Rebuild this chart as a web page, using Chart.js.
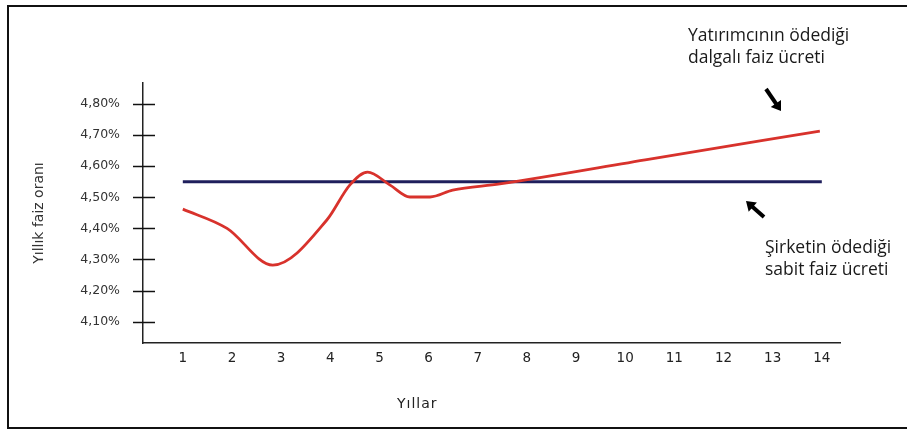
<!DOCTYPE html>
<html>
<head>
<meta charset="utf-8">
<script src="https://cdn.jsdelivr.net/npm/chart.js@4/dist/chart.umd.min.js"></script>
<style>
  body { margin: 0; background: #fff; }
  #wrap { position: relative; width: 907px; height: 433px; overflow: hidden; }
  #frame { position: absolute; left: 7px; top: 5px; width: 920px; height: 424px; border: 2px solid #111; border-right: none; box-sizing: border-box; }
  .note { position: absolute; font-family: "Open Sans", sans-serif; font-size: 17.5px; line-height: 22px; color: #1a1a1a; white-space: nowrap; }
  #xtitle { position: absolute; left: 397px; top: 395px; font-family: "DejaVu Sans", sans-serif; font-size: 14px; letter-spacing: 1px; color: #222; }
</style>
</head>
<body>
<div id="wrap">
  <canvas id="chart" width="907" height="433"></canvas>
  <div id="frame"></div>
  <div class="note" style="left:688px; top:23px;">Yatırımcının ödediği<br>dalgalı faiz ücreti</div>
  <div class="note" style="left:765px; top:235px;">Şirketin ödediği<br>sabit faiz ücreti</div>
  <div id="xtitle">Yıllar</div>
</div>
<script>
// floating rate paid by the investor (red curve)
const floatYears = [1.0, 1.9, 2.83, 3.93, 4.4, 4.76, 5.21, 5.62, 6.03, 6.49, 7.45, 10.5, 13.96];
const floatRates = [4.462, 4.40, 4.282, 4.427, 4.540, 4.581, 4.540, 4.501, 4.501, 4.523, 4.543, 4.623, 4.713];
// fixed rate paid by the company (navy line)
const fixedYears = [1, 14];
const fixedRates = [4.55, 4.55];

const xTicks = [1, 2, 3, 4, 5, 6, 7, 8, 9, 10, 11, 12, 13, 14];
const yTicks = [4.1, 4.2, 4.3, 4.4, 4.5, 4.6, 4.7, 4.8];

const toPoints = (xs, ys) => xs.map((x, i) => ({ x: x, y: ys[i] }));

// cross tick marks on the y axis and the two arrows
const extras = {
  id: "extras",
  afterDraw(chart) {
    const ctx = chart.ctx;
    const ys = chart.scales.y;
    ctx.save();
    ctx.strokeStyle = "#111";
    ctx.lineWidth = 1.5;
    ys.ticks.forEach(t => {
      const py = Math.round(ys.getPixelForValue(t.value)) + 0.5;
      ctx.beginPath();
      ctx.moveTo(ys.right - 10, py);
      ctx.lineTo(ys.right + 12, py);
      ctx.stroke();
    });
    drawArrow(ctx, 766, 89, 781, 111);
    drawArrow(ctx, 764, 217, 746, 201);
    ctx.restore();
  }
};

function drawArrow(ctx, x1, y1, x2, y2) {
  const a = Math.atan2(y2 - y1, x2 - x1);
  const head = 11;
  ctx.strokeStyle = "#000";
  ctx.fillStyle = "#000";
  ctx.lineWidth = 4;
  ctx.beginPath();
  ctx.moveTo(x1, y1);
  ctx.lineTo(x2 - Math.cos(a) * 4, y2 - Math.sin(a) * 4);
  ctx.stroke();
  ctx.beginPath();
  ctx.moveTo(x2, y2);
  ctx.lineTo(x2 - head * Math.cos(a - 0.6), y2 - head * Math.sin(a - 0.6));
  ctx.lineTo(x2 - head * Math.cos(a + 0.6), y2 - head * Math.sin(a + 0.6));
  ctx.closePath();
  ctx.fill();
}

new Chart(document.getElementById("chart"), {
  type: "line",
  data: {
    datasets: [
      {
        label: "Yatırımcının ödediği dalgalı faiz ücreti",
        data: toPoints(floatYears, floatRates),
        borderColor: "#d8322c",
        borderWidth: 2.8,
        pointRadius: 0,
        cubicInterpolationMode: "monotone",
      },
      {
        label: "Şirketin ödediği sabit faiz ücreti",
        data: toPoints(fixedYears, fixedRates),
        borderColor: "#1f1f5c",
        borderWidth: 3,
        pointRadius: 0,
      },
    ],
  },
  options: {
    responsive: false,
    animation: false,
    layout: { padding: { left: 0, top: 83, right: 67, bottom: 0 } },
    plugins: {
      legend: { display: false },
      tooltip: { enabled: false },
    },
    scales: {
      x: {
        type: "linear",
        min: 0.19,
        max: 14.37,
        afterBuildTicks: s => { s.ticks = xTicks.map(v => ({ value: v })); },
        afterFit: s => { s.height = 90; },
        grid: { display: false, drawTicks: false },
        border: { display: true, color: "#222", width: 1.5 },
        ticks: {
          padding: 7,
          maxRotation: 0,
          autoSkip: false,
          color: "#222",
          font: { family: "DejaVu Sans", size: 13.5 },
        },
      },
      y: {
        min: 4.0315,
        max: 4.8675,
        afterBuildTicks: s => { s.ticks = yTicks.map(v => ({ value: v })); },
        afterFit: s => { s.width = 143; },
        grid: { display: false, drawTicks: false },
        border: { display: true, color: "#222", width: 1.5 },
        ticks: {
          padding: 23,
          color: "#333",
          font: { family: "DejaVu Sans", size: 12.5 },
          callback: v => v.toFixed(2).replace(".", ",") + "%",
        },
        title: {
          display: true,
          text: "Yıllık faiz oranı",
          color: "#333",
          font: { family: "DejaVu Sans", size: 14 },
          padding: { top: 31, bottom: 0 },
        },
      },
    },
  },
  plugins: [extras],
});
</script>
</body>
</html>
